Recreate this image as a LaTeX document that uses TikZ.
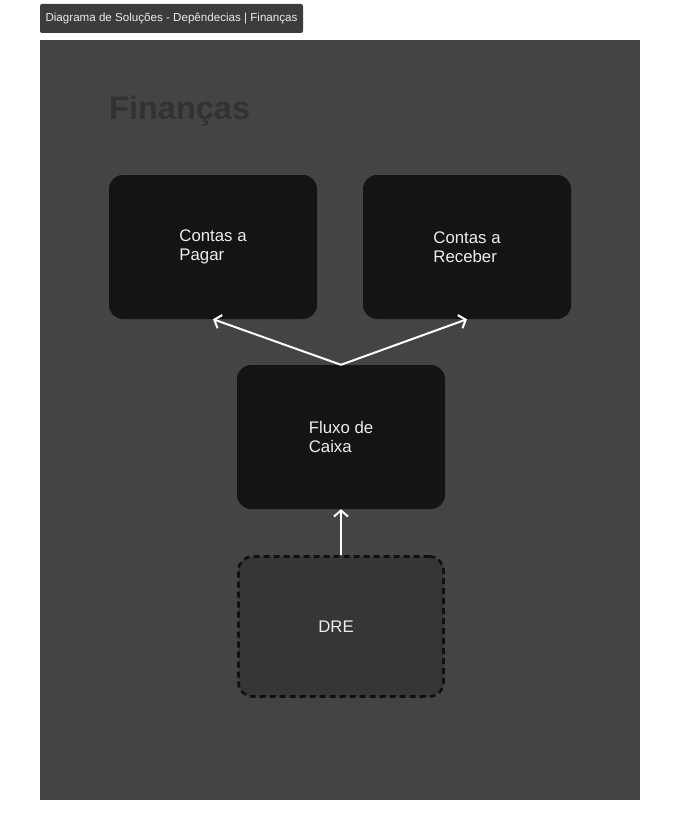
\documentclass[tikz,border=0pt]{standalone}
\usepackage{fontspec}
\setmainfont{Liberation Sans}
\usetikzlibrary{arrows.meta}
\definecolor{quadro}{HTML}{444444}
\definecolor{etiqueta}{HTML}{3C3C3C}
\definecolor{cartao}{HTML}{141414}
\definecolor{pendente}{HTML}{363636}
\definecolor{titulo}{HTML}{323232}
\newcommand{\corpo}{\fontsize{16.8}{19}\selectfont}

\begin{document}
\begin{tikzpicture}[x=1pt,y=-1pt,
    cartao/.style={fill=cartao, rounded corners=14pt, minimum width=208pt,
      minimum height=144pt, align=left, text=white!93!black, font=\corpo},
    planejado/.style={cartao, fill=pendente, draw=cartao!80!black,
      line width=2.6pt, dash pattern=on 6pt off 4pt,
      minimum width=205pt, minimum height=140pt},
    dep/.style={draw=white, line width=2pt,
      -{Straight Barb[length=6pt,width=14pt]}}]
    \useasboundingbox (0,0) rectangle (680,840);
    \fill[quadro] (40,40) rectangle (640,800);
    \node[fill=etiqueta, rounded corners=2pt, minimum width=263pt, minimum height=29pt,
      text=white!92!black, font=\fontsize{11.6}{13}\selectfont] (tag) at (171.5,18.5)
      {Diagrama de Soluções - Depêndecias | Finanças};
    \node[anchor=west, text=titulo, font=\fontsize{32.5}{36}\bfseries, inner sep=0pt]
      (titulo) at (109,111) {Finanças};
    \node[cartao] (pagar) at (213,247) {Contas a\\Pagar};
    \node[cartao] (receber) at (467,247) {Contas a\\Receber};
    \node[cartao] (fluxo) at (341,437) {Fluxo de\\Caixa};
    \node[planejado] (dre) at (341,626.5) {\hspace*{-10pt}DRE};
    \path[dep] (fluxo.north) -- (pagar.south);
    \path[dep] (fluxo.north) -- (receber.south);
    \path[dep] (dre.north) -- (fluxo.south);
  \end{tikzpicture}
\end{document}
